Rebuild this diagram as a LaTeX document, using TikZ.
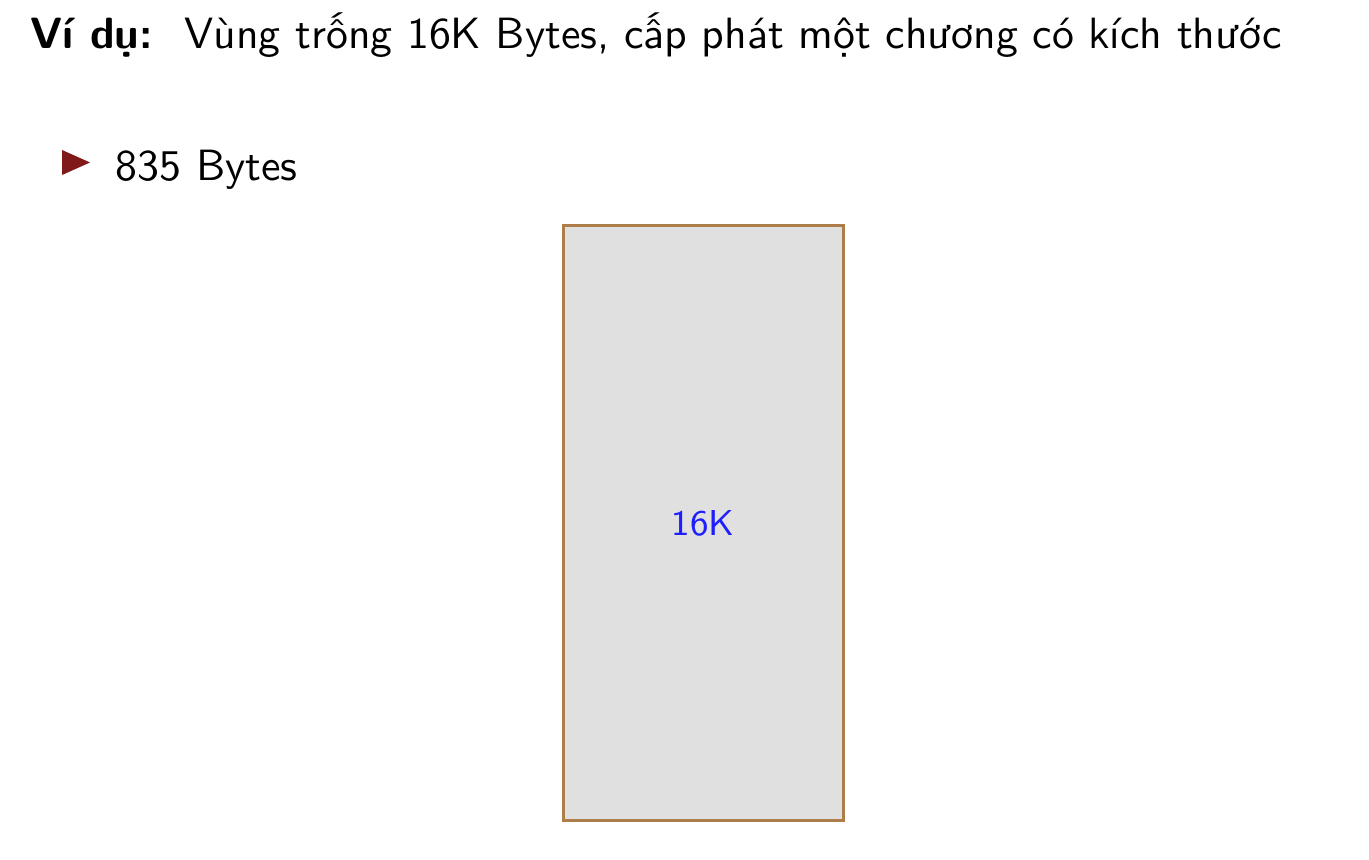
\documentclass[tikz,border=0pt]{standalone}
\usepackage{fontspec}
\usetikzlibrary{positioning}

\definecolor{bulletred}{RGB}{128,26,26}
\definecolor{boxbrown}{RGB}{173,125,74}
\definecolor{boxgray}{RGB}{224,224,224}
\definecolor{sizeblue}{RGB}{30,30,255}

\begin{document}
\begin{tikzpicture}[font=\sffamily\fontsize{10.95}{13}\selectfont]
  \useasboundingbox (0,-7.557) rectangle (12.03,0);
  \node[anchor=base west,inner sep=0pt] (vidu) at (0.264,-0.422)
    {\textbf{Ví dụ:}\hspace{0.73em}Vùng trống 16K Bytes, cấp phát một chương có kích thước};

  % bullet item
  \fill[bulletred] (0.545,-1.318) -- (0.791,-1.428) -- (0.545,-1.538) -- cycle;
  \node[anchor=base west,inner sep=0pt] (item) at (1.011,-1.582) {835 Bytes};

  % free memory block
  \node[draw=boxbrown,fill=boxgray,line width=0.75pt,text=sizeblue,
        font=\sffamily\fontsize{9}{11}\selectfont,
        minimum width=2.461cm,minimum height=5.22cm] (mem) at (6.178,-4.596) {16K};
\end{tikzpicture}
\end{document}
